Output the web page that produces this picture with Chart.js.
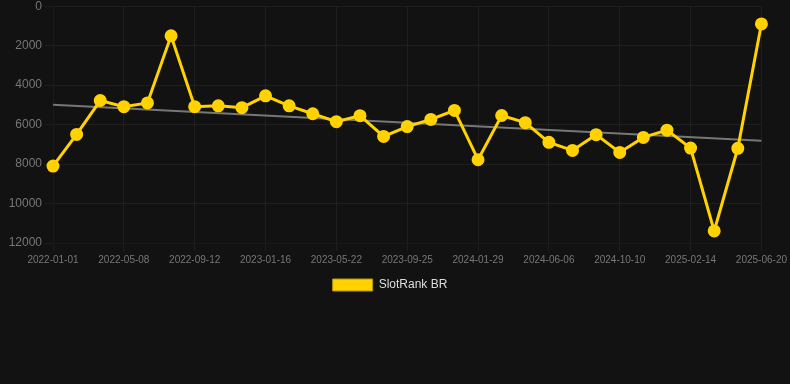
<!DOCTYPE html>
<html>
<head>
<meta charset="utf-8">
<script src="https://cdn.jsdelivr.net/npm/chart.js@4"></script>
<style>
  html, body { margin: 0; padding: 0; background: #121212; overflow: hidden; }
  #wrap { width: 790px; height: 388px; margin-top: -4px; }
</style>
</head>
<body>
<div id="wrap"><canvas id="rankChart"></canvas></div>
<script>
// dates (every 3rd is shown on the axis)
var labels = [
    '2022-01-01', '2022-02-12', '2022-03-26', '2022-05-08', '2022-06-19', '2022-07-31',
    '2022-09-12', '2022-10-24', '2022-12-05', '2023-01-16', '2023-02-27', '2023-04-10',
    '2023-05-22', '2023-07-03', '2023-08-14', '2023-09-25', '2023-11-06', '2023-12-18',
    '2024-01-29', '2024-03-12', '2024-04-24', '2024-06-06', '2024-07-18', '2024-08-29',
    '2024-10-10', '2024-11-21', '2025-01-02', '2025-02-14', '2025-03-28', '2025-05-09',
    '2025-06-20'
];
// rank values
var rankBR = [
    8100, 6500, 4780, 5090, 4900, 1500,
    5090, 5050, 5140, 4540, 5050, 5450,
    5850, 5550, 6600, 6100, 5740, 5280,
    7780, 5540, 5900, 6900, 7310, 6510,
    7410, 6650, 6280, 7190, 11390, 7200,
    900
];
var trendEnds = [5000, 6820]; // grey trend line, first and last point
var yTicks = [0, 2000, 4000, 6000, 8000, 10000, 12000];

var trendData = labels.map(function () { return null; });
trendData[0] = trendEnds[0];
trendData[labels.length - 1] = trendEnds[1];

var ctx = document.getElementById('rankChart').getContext('2d');
var rankChart = new Chart(ctx, {
    type: 'line',
    data: {
        labels: labels,
        datasets: [{
            label: 'SlotRank BR',
            data: rankBR,
            borderColor: '#ffd200',
            backgroundColor: '#ffd200',
            borderWidth: 3,
            pointRadius: 5,
            pointHoverRadius: 5,
            pointBackgroundColor: '#ffd200',
            pointBorderColor: '#ffd200',
            lineTension: 0,
            order: 1
        }, {
            label: 'trend',
            data: trendData,
            spanGaps: true,
            borderColor: '#777777',
            borderWidth: 2,
            pointRadius: 0,
            lineTension: 0,
            order: 2
        }]
    },
    options: {
        responsive: true,
        maintainAspectRatio: false,
        animation: false,
        layout: {
            padding: { top: 0, left: 0, bottom: 83, right: 10 }
        },
        plugins: {
            legend: {
                position: 'bottom',
                labels: {
                    color: '#dddddd',
                    font: { size: 12 },
                    filter: function (item) { return item.text !== 'trend'; },
                    generateLabels: function (chart) {
                        var items = Chart.defaults.plugins.legend.labels.generateLabels(chart);
                        items.forEach(function (it) {
                            it.lineWidth = 1;
                            it.strokeStyle = '#b89400';
                        });
                        return items;
                    }
                }
            },
            tooltip: { enabled: false }
        },
        scales: {
            x: {
                grid: { color: 'rgba(255,255,255,0.05)' },
                ticks: {
                    color: '#777777',
                    font: { size: 10 },
                    maxRotation: 0,
                    autoSkip: false,
                    callback: function (val, i) {
                        return i % 3 === 0 ? labels[i] : null;
                    }
                }
            },
            y: {
                reverse: true,
                min: 0,
                max: 12000,
                afterFit: function (scale) { scale.width = 53; },
                grid: { color: 'rgba(255,255,255,0.05)' },
                ticks: {
                    color: '#777777',
                    font: { size: 12 },
                    stepSize: 2000,
                    callback: function (val) {
                        return yTicks.indexOf(val) >= 0 ? val : null;
                    }
                }
            }
        }
    }
});
</script>
</body>
</html>
